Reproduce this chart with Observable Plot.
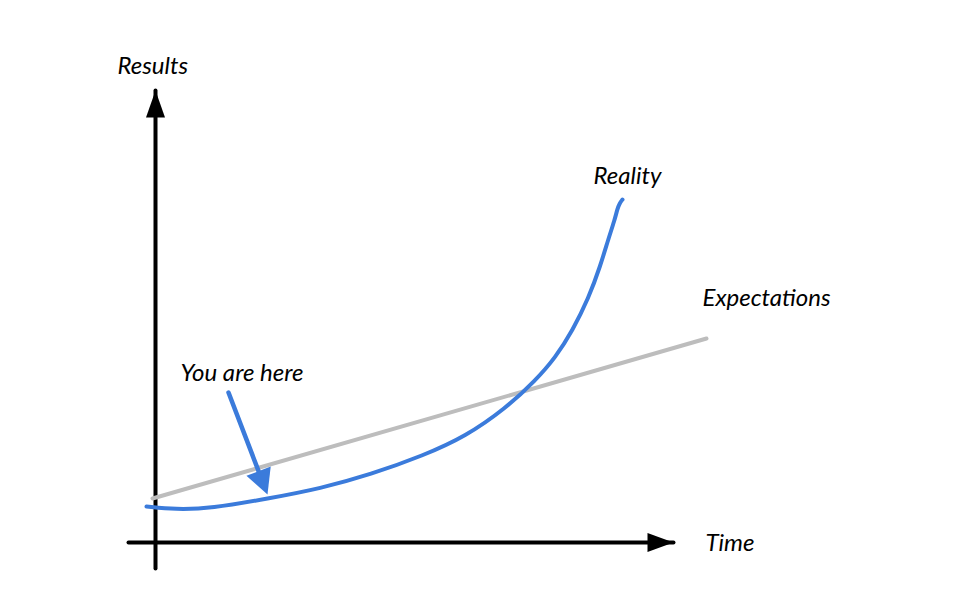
<!DOCTYPE html>
<html><head><meta charset="utf-8">
<script src="https://cdn.jsdelivr.net/npm/d3@7"></script>
<script src="https://cdn.jsdelivr.net/npm/@observablehq/plot@0.6"></script>
<style>body{margin:0;background:#fff}</style>
</head><body><div id="chart"></div>
<script>
// Data in chart units (time, results)
const axisTime = [{x: -0.27, y: 0}, {x: 5.18, y: 0}];
const axisResults = [{x: 0, y: -0.26}, {x: 0, y: 4.52}];
const expectations = [{x: -0.03, y: 0.44}, {x: 5.51, y: 2.04}];
const realityX = [-0.09, 0.20, 0.55, 1.13, 1.65, 2.15, 2.68, 3.10, 3.50, 3.80, 4.00, 4.17, 4.33, 4.45, 4.53, 4.59, 4.62, 4.64, 4.67];
const realityY = [0.36, 0.33, 0.34, 0.44, 0.54, 0.68, 0.87, 1.06, 1.34, 1.62, 1.85, 2.12, 2.44, 2.77, 3.04, 3.22, 3.34, 3.39, 3.43];
const pointer = [{x: 0.73, y: 1.50}, {x: 1.12, y: 0.48}];
const labelText = ["Results", "Reality", "Expectations", "You are here", "Time"];
const labelX = [-0.38, 4.38, 5.47, 0.25, 5.50];
const labelY = [4.69, 3.59, 2.37, 1.62, -0.08];

const reality = realityX.map((x, i) => ({x, y: realityY[i]}));
const labels = labelText.map((text, i) => ({text, x: labelX[i], y: labelY[i]}));

const PX = 100; // pixels per unit (both axes)
function head(len, w) {
  return {draw(ctx) { ctx.moveTo(0, 0); ctx.lineTo(-w / 2, len); ctx.lineTo(w / 2, len); ctx.closePath(); }};
}
const [p0, p1] = pointer;
const dxs = (p1.x - p0.x) * PX, dys = -(p1.y - p0.y) * PX;
const L = Math.hypot(dxs, dys);
const pointerAngle = Math.atan2(dxs, -dys) * 180 / Math.PI;
const headLen = 25, cut = (headLen - 4) / L;
const shaft = [p0, {x: p1.x - (p1.x - p0.x) * cut, y: p1.y - (p1.y - p0.y) * cut}];

const blue = "#3b7bdb";
const font = "Lato, 'Open Sans', sans-serif";

const chart = Plot.plot({
  width: 960, height: 600,
  marginTop: 0, marginRight: 0, marginBottom: 0, marginLeft: 0,
  x: {domain: [-1.55, 8.05], axis: null},
  y: {domain: [-0.58, 5.42], axis: null},
  style: {background: "#fff"},
  marks: [
    Plot.line(axisTime, {x: "x", y: "y", stroke: "#000", strokeWidth: 4}),
    Plot.line(axisResults, {x: "x", y: "y", stroke: "#000", strokeWidth: 4}),
    Plot.dot([axisTime[1]], {x: "x", y: "y", symbol: head(26, 19), fill: "#000", stroke: "none", rotate: 90}),
    Plot.dot([axisResults[1]], {x: "x", y: "y", symbol: head(27, 19), fill: "#000", stroke: "none", rotate: 0}),
    Plot.line(expectations, {x: "x", y: "y", stroke: "#bdbdbd", strokeWidth: 4}),
    Plot.line(reality, {x: "x", y: "y", stroke: blue, strokeWidth: 4, curve: "basis", strokeLinecap: "round"}),
    Plot.line(shaft, {x: "x", y: "y", stroke: blue, strokeWidth: 4.5}),
    Plot.dot([p1], {x: "x", y: "y", symbol: head(headLen, 26), fill: blue, stroke: "none", rotate: pointerAngle}),
    Plot.text(labels, {x: "x", y: "y", text: "text", textAnchor: "start", lineAnchor: "bottom", fontSize: 24, fontStyle: "italic", fontFamily: font, fill: "#000"})
  ]
});
document.getElementById("chart").appendChild(chart);
</script>
</body></html>
